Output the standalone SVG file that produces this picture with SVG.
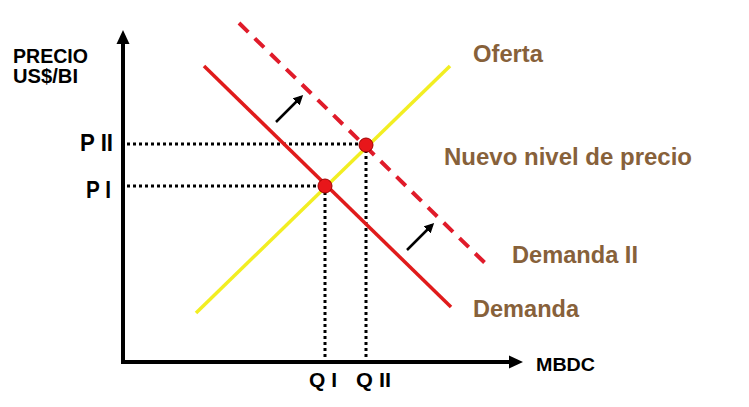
<svg xmlns="http://www.w3.org/2000/svg" width="749" height="407" viewBox="0 0 749 407">
<defs>
<style>
.lbl{font-family:"Liberation Sans",Arial,sans-serif;font-weight:bold;fill:#000}
.brn{font-family:"Liberation Sans",Arial,sans-serif;font-weight:bold;fill:#87613A;font-size:23px}
.dot{stroke:#000;stroke-width:3;stroke-dasharray:3 3;fill:none}
.ax{stroke:#000;stroke-width:4;fill:none}
.sh{stroke:#000;stroke-width:2.5;fill:none}
.pt{fill:#E8161A;stroke:#A00000;stroke-width:1}
</style>
<marker id="ah" markerWidth="10" markerHeight="10" refX="7" refY="5" orient="auto" markerUnits="userSpaceOnUse" viewBox="0 0 10 10">
<path d="M0,0 L10,5 L0,10 Z" fill="#000"/>
</marker>
</defs>
<rect width="749" height="407" fill="#fff"/>
<g id="axes">
<polyline class="ax" points="123,40 123,362 512,362"/>
<path d="M123,30 L116.5,44 L129.5,44 Z" fill="#000"/>
<path d="M523,362 L509,355.5 L509,368.5 Z" fill="#000"/>
</g>
<g id="connectors">
<line class="dot" x1="127" y1="144" x2="360" y2="144"/>
<line class="dot" x1="127" y1="186" x2="320" y2="186"/>
<line class="dot" x1="325" y1="192" x2="325" y2="360"/>
<line class="dot" x1="366" y1="150" x2="366" y2="360"/>
<line class="sh" x1="276" y1="122" x2="301" y2="97" marker-end="url(#ah)"/>
<line class="sh" x1="407" y1="250" x2="432" y2="225" marker-end="url(#ah)"/>
</g>
<g id="oferta">
<line x1="196" y1="313" x2="450" y2="66" stroke="#F2EE22" stroke-width="3.5"/>
<text class="brn" x="473" y="62" textLength="70" lengthAdjust="spacingAndGlyphs">Oferta</text>
</g>
<g id="demanda">
<line x1="204" y1="66" x2="451" y2="307" stroke="#E01B1B" stroke-width="3.5"/>
<text class="brn" x="473" y="317" textLength="106" lengthAdjust="spacingAndGlyphs">Demanda</text>
</g>
<g id="demanda2">
<line x1="239" y1="23" x2="486" y2="264" stroke="#E01B2A" stroke-width="4" stroke-dasharray="13 9"/>
<text class="brn" x="512" y="263" textLength="126" lengthAdjust="spacingAndGlyphs">Demanda II</text>
</g>
<g id="nuevo">
<text class="brn" x="444" y="165" textLength="248" lengthAdjust="spacingAndGlyphs">Nuevo nivel de precio</text>
</g>
<g id="p1"><circle class="pt" cx="325" cy="186" r="7"/></g>
<g id="p2"><circle class="pt" cx="366" cy="145" r="7"/></g>
<g id="labels">
<text class="lbl" x="13" y="63" font-size="20" textLength="75" lengthAdjust="spacingAndGlyphs">PRECIO</text>
<text class="lbl" x="13" y="83" font-size="20" textLength="65" lengthAdjust="spacingAndGlyphs">US$/BI</text>
<text class="lbl" x="80" y="151" font-size="24" textLength="33" lengthAdjust="spacingAndGlyphs">P II</text>
<text class="lbl" x="86" y="198" font-size="24" textLength="25" lengthAdjust="spacingAndGlyphs">P I</text>
<text class="lbl" x="309" y="387" font-size="20" textLength="28" lengthAdjust="spacingAndGlyphs">Q I</text>
<text class="lbl" x="356" y="387" font-size="20" textLength="35" lengthAdjust="spacingAndGlyphs">Q II</text>
<text class="lbl" x="536" y="371" font-size="18" textLength="59" lengthAdjust="spacingAndGlyphs">MBDC</text>
</g>
</svg>
